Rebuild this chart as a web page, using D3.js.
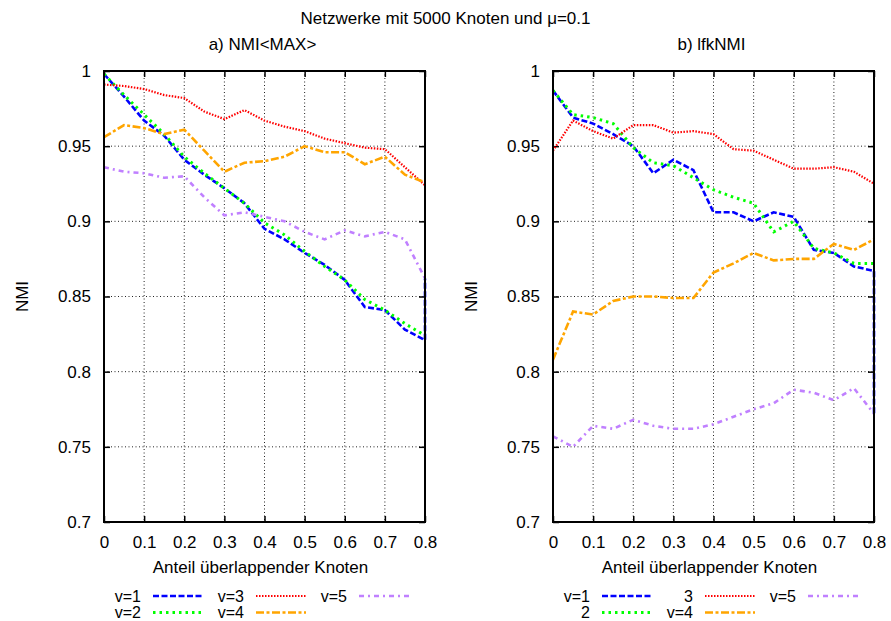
<!DOCTYPE html>
<html>
<head>
<meta charset="utf-8">
<script src="https://cdn.jsdelivr.net/npm/d3@7/dist/d3.min.js"></script>
<style>
body { margin: 0; background: #fff; }
svg { font-family: "Liberation Sans", Arial, Helvetica, sans-serif; font-size: 17px; }
</style>
</head>
<body>
<div id="chart"></div>
<script>
// data
var xTicks = [0, 0.1, 0.2, 0.3, 0.4, 0.5, 0.6, 0.7, 0.8];
var yTicks = [0.7, 0.75, 0.8, 0.85, 0.9, 0.95, 1];
var xPoints = [0, 0.05, 0.1, 0.15, 0.2, 0.25, 0.3, 0.35, 0.4, 0.45, 0.5, 0.55, 0.6, 0.65, 0.7, 0.75, 0.8];
// v=1 has one extra point at 0.8 (the vertical drop at the right edge)
var xPointsV1 = [0, 0.05, 0.1, 0.15, 0.2, 0.25, 0.3, 0.35, 0.4, 0.45, 0.5, 0.55, 0.6, 0.65, 0.7, 0.75, 0.8, 0.8];

// a) NMI<MAX>
var maxV1 = [0.998, 0.983, 0.967, 0.957, 0.941, 0.931, 0.922, 0.912, 0.895, 0.888, 0.879, 0.871, 0.861, 0.843, 0.841, 0.828, 0.821, 0.862];
var maxV2 = [0.998, 0.984, 0.971, 0.958, 0.943, 0.932, 0.922, 0.912, 0.899, 0.891, 0.880, 0.870, 0.861, 0.848, 0.841, 0.832, 0.824];
var maxV3 = [0.991, 0.990, 0.988, 0.984, 0.982, 0.973, 0.968, 0.974, 0.967, 0.963, 0.960, 0.955, 0.952, 0.949, 0.948, 0.936, 0.924];
var maxV4 = [0.956, 0.964, 0.962, 0.958, 0.961, 0.947, 0.933, 0.939, 0.940, 0.943, 0.950, 0.946, 0.946, 0.938, 0.943, 0.931, 0.926];
var maxV5 = [0.936, 0.933, 0.932, 0.929, 0.930, 0.916, 0.904, 0.906, 0.903, 0.900, 0.893, 0.888, 0.894, 0.890, 0.893, 0.888, 0.862];

// b) lfkNMI
var lfkV1 = [0.987, 0.969, 0.965, 0.958, 0.950, 0.932, 0.941, 0.934, 0.906, 0.906, 0.900, 0.906, 0.903, 0.881, 0.879, 0.870, 0.867, 0.771];
var lfkV2 = [0.987, 0.971, 0.969, 0.965, 0.949, 0.939, 0.937, 0.929, 0.921, 0.916, 0.912, 0.893, 0.900, 0.882, 0.879, 0.872, 0.872];
var lfkV3 = [0.947, 0.967, 0.960, 0.955, 0.964, 0.964, 0.959, 0.960, 0.958, 0.948, 0.947, 0.941, 0.935, 0.935, 0.936, 0.933, 0.925];
var lfkV4 = [0.808, 0.840, 0.838, 0.847, 0.850, 0.850, 0.849, 0.849, 0.866, 0.872, 0.879, 0.874, 0.875, 0.875, 0.885, 0.881, 0.888];
var lfkV5 = [0.757, 0.750, 0.764, 0.762, 0.768, 0.764, 0.762, 0.762, 0.765, 0.770, 0.775, 0.779, 0.788, 0.786, 0.781, 0.789, 0.772];

var legendLabelsA = ["v=1", "v=2", "v=3", "v=4", "v=5"];
var legendLabelsB = ["v=1", "2", "3", "v=4", "v=5"];

var styles = [
	{color: "#0000ff", dash: "6,2.5", width: 2.6},
	{color: "#00ff00", dash: "2.5,4", width: 3},
	{color: "#ff0000", dash: "1.5,1.5", width: 2.2},
	{color: "#ffa500", dash: "8,2.5,3,2.5", width: 2.6},
	{color: "#c080ff", dash: "5,4,2,4", width: 2.6}
];

var panels = [
	{title: "a) NMI<MAX>", left: 104, series: [maxV1, maxV2, maxV3, maxV4, maxV5], labels: legendLabelsA},
	{title: "b) lfkNMI", left: 553, series: [lfkV1, lfkV2, lfkV3, lfkV4, lfkV5], labels: legendLabelsB}
];

var svgWidth = 891, svgHeight = 621;
var plotTop = 71, plotBottom = 522, plotWidth = 321;

var svg = d3.select("#chart").append("svg")
		.attr("width", svgWidth)
		.attr("height", svgHeight);

svg.append("text")
		.attr("x", svgWidth / 2)
		.attr("y", 24)
		.attr("text-anchor", "middle")
		.text("Netzwerke mit 5000 Knoten und \u03bc=0.1");

var fmt = function(d) { return String(+d.toFixed(2)); };

panels.forEach(function(p) {
	var h = plotBottom - plotTop;
	var xScale = d3.scaleLinear().domain([0, 0.8]).range([0, plotWidth]);
	var yScale = d3.scaleLinear().domain([0.7, 1]).range([h, 0]);

	var g = svg.append("g").attr("transform", "translate(" + p.left + "," + plotTop + ")");

	// grid
	g.append("g").selectAll("line")
		.data(xTicks.slice(1, -1))
		.enter().append("line")
			.attr("x1", function(d) { return xScale(d); })
			.attr("x2", function(d) { return xScale(d); })
			.attr("y1", 0).attr("y2", h)
			.attr("stroke", "#222").attr("stroke-width", 1).attr("stroke-dasharray", "1,2.5");
	g.append("g").selectAll("line")
		.data(yTicks.slice(1, -1))
		.enter().append("line")
			.attr("y1", function(d) { return yScale(d); })
			.attr("y2", function(d) { return yScale(d); })
			.attr("x1", 0).attr("x2", plotWidth)
			.attr("stroke", "#222").attr("stroke-width", 1).attr("stroke-dasharray", "1,2.5");

	// axes (ticks mirrored inside the frame)
	var tickLen = 6;
	g.append("g").attr("transform", "translate(0," + h + ")")
		.call(d3.axisBottom(xScale).tickValues(xTicks).tickFormat(fmt).tickSizeInner(-tickLen).tickSizeOuter(0).tickPadding(14));
	g.append("g")
		.call(d3.axisTop(xScale).tickValues(xTicks).tickFormat("").tickSizeInner(-tickLen).tickSizeOuter(0));
	g.append("g")
		.call(d3.axisLeft(yScale).tickValues(yTicks).tickFormat(fmt).tickSizeInner(-tickLen).tickSizeOuter(0).tickPadding(13));
	g.append("g").attr("transform", "translate(" + plotWidth + ",0)")
		.call(d3.axisRight(yScale).tickValues(yTicks).tickFormat("").tickSizeInner(-tickLen).tickSizeOuter(0));

	g.selectAll(".domain").remove();
	g.selectAll(".tick line").attr("stroke", "#000").attr("stroke-width", 1.5);
	g.selectAll(".tick text").attr("fill", "#000").style("font-size", "17px")
		.style("font-family", "\"Liberation Sans\", Arial, sans-serif");

	// series
	var line = d3.line()
			.x(function(d) { return xScale(d.x); })
			.y(function(d) { return yScale(d.y); });

	p.series.forEach(function(vals, i) {
		var xs = vals.length > xPoints.length ? xPointsV1 : xPoints;
		var pts = vals.map(function(v, j) { return {x: xs[j], y: v}; });
		g.append("path")
				.datum(pts)
				.attr("d", line)
				.attr("fill", "none")
				.attr("stroke", styles[i].color)
				.attr("stroke-width", styles[i].width)
				.attr("stroke-dasharray", styles[i].dash);
	});

	// frame
	g.append("rect")
			.attr("width", plotWidth).attr("height", h)
			.attr("fill", "none").attr("stroke", "#000").attr("stroke-width", 2);

	// titles and axis labels
	svg.append("text")
			.attr("x", p.left + plotWidth / 2 - 2)
			.attr("y", 50)
			.attr("text-anchor", "middle")
			.text(p.title);

	svg.append("text")
			.attr("x", p.left + plotWidth / 2 - 4)
			.attr("y", 573)
			.attr("text-anchor", "middle")
			.text("Anteil \u00fcberlappender Knoten");

	svg.append("text")
			.attr("transform", "translate(" + (p.left - 76) + "," + ((plotTop + plotBottom) / 2) + ") rotate(-90)")
			.attr("text-anchor", "middle")
			.text("NMI");

	// legend
	var legend = svg.append("g").attr("class", "legend");
	p.labels.forEach(function(lab, i) {
		var col = Math.floor(i / 2), row = i % 2;
		var tx = p.left + 37 + col * 103;
		var ty = 596 + row * 16.5;
		legend.append("text")
				.attr("x", tx).attr("y", ty)
				.attr("dy", "0.35em")
				.attr("text-anchor", "end")
				.style("font-size", "16px")
				.text(lab);
		legend.append("line")
				.attr("x1", tx + 12).attr("x2", tx + 62)
				.attr("y1", ty).attr("y2", ty)
				.attr("stroke", styles[i].color)
				.attr("stroke-width", styles[i].width)
				.attr("stroke-dasharray", styles[i].dash);
	});
});
</script>
</body>
</html>
